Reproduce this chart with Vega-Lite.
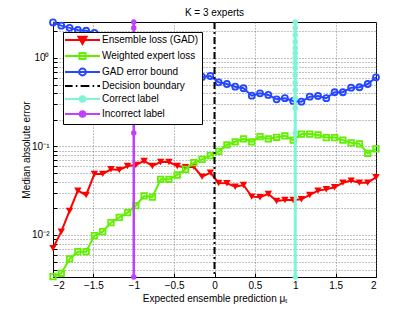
{
  "$schema": "https://vega.github.io/schema/vega-lite/v6.json",
  "width": 323,
  "height": 255,
  "autosize": {"type": "none"},
  "padding": {"left": 53, "top": 22, "right": 39, "bottom": 35},
  "background": "white",
  "config": {
    "font": "Liberation Sans",
    "view": {"stroke": "black", "strokeWidth": 1},
    "axis": {
      "domainColor": "black", "tickColor": "black", "labelColor": "black", "titleColor": "black",
      "labelFontSize": 10, "titleFontSize": 10, "titleFontWeight": "normal",
      "grid": true, "gridDash": [1, 2], "gridColor": "#666", "gridWidth": 0.8,
      "tickSize": -4
    }
  },
  "title": {"text": "K = 3 experts", "fontSize": 10, "fontWeight": "normal", "color": "black", "offset": -2},
  "data": {"values": [
    {"series":"ensemble","x":-2,"y":0.0071},{"series":"ensemble","x":-1.8974,"y":0.0109},{"series":"ensemble","x":-1.7949,"y":0.0187},{"series":"ensemble","x":-1.6923,"y":0.0317},{"series":"ensemble","x":-1.5897,"y":0.0283},{"series":"ensemble","x":-1.4872,"y":0.0489},{"series":"ensemble","x":-1.3846,"y":0.049},{"series":"ensemble","x":-1.2821,"y":0.0552},{"series":"ensemble","x":-1.1795,"y":0.0543},{"series":"ensemble","x":-1.0769,"y":0.0602},{"series":"ensemble","x":-0.9744,"y":0.0618},{"series":"ensemble","x":-0.8718,"y":0.0686},{"series":"ensemble","x":-0.7692,"y":0.0602},{"series":"ensemble","x":-0.6667,"y":0.0668},{"series":"ensemble","x":-0.5641,"y":0.0668},{"series":"ensemble","x":-0.4615,"y":0.0602},{"series":"ensemble","x":-0.359,"y":0.0582},{"series":"ensemble","x":-0.2564,"y":0.059},{"series":"ensemble","x":-0.1538,"y":0.0456},{"series":"ensemble","x":-0.0513,"y":0.0506},{"series":"ensemble","x":0.0513,"y":0.0387},{"series":"ensemble","x":0.1538,"y":0.0384},{"series":"ensemble","x":0.2564,"y":0.0351},{"series":"ensemble","x":0.359,"y":0.0367},{"series":"ensemble","x":0.4615,"y":0.0271},{"series":"ensemble","x":0.5641,"y":0.0267},{"series":"ensemble","x":0.6667,"y":0.0291},{"series":"ensemble","x":0.7692,"y":0.0242},{"series":"ensemble","x":0.8718,"y":0.0248},{"series":"ensemble","x":0.9744,"y":0.0248},{"series":"ensemble","x":1.0769,"y":0.0253},{"series":"ensemble","x":1.1795,"y":0.0283},{"series":"ensemble","x":1.2821,"y":0.0317},{"series":"ensemble","x":1.3846,"y":0.0328},{"series":"ensemble","x":1.4872,"y":0.0346},{"series":"ensemble","x":1.5897,"y":0.039},{"series":"ensemble","x":1.6923,"y":0.0411},{"series":"ensemble","x":1.7949,"y":0.039},{"series":"ensemble","x":1.8974,"y":0.039},{"series":"ensemble","x":2,"y":0.0449},
    {"series":"weighted","x":-2,"y":0.00338},{"series":"weighted","x":-1.8974,"y":0.00369},{"series":"weighted","x":-1.7949,"y":0.00536},{"series":"weighted","x":-1.6923,"y":0.00647},{"series":"weighted","x":-1.5897,"y":0.00647},{"series":"weighted","x":-1.4872,"y":0.00982},{"series":"weighted","x":-1.3846,"y":0.0109},{"series":"weighted","x":-1.2821,"y":0.0138},{"series":"weighted","x":-1.1795,"y":0.0158},{"series":"weighted","x":-1.0769,"y":0.0179},{"series":"weighted","x":-0.9744,"y":0.0214},{"series":"weighted","x":-0.8718,"y":0.0276},{"series":"weighted","x":-0.7692,"y":0.0267},{"series":"weighted","x":-0.6667,"y":0.0426},{"series":"weighted","x":-0.5641,"y":0.0426},{"series":"weighted","x":-0.4615,"y":0.0476},{"series":"weighted","x":-0.359,"y":0.0552},{"series":"weighted","x":-0.2564,"y":0.0656},{"series":"weighted","x":-0.1538,"y":0.0716},{"series":"weighted","x":-0.0513,"y":0.0787},{"series":"weighted","x":0.0513,"y":0.088},{"series":"weighted","x":0.1538,"y":0.104},{"series":"weighted","x":0.2564,"y":0.113},{"series":"weighted","x":0.359,"y":0.122},{"series":"weighted","x":0.4615,"y":0.113},{"series":"weighted","x":0.5641,"y":0.129},{"series":"weighted","x":0.6667,"y":0.122},{"series":"weighted","x":0.7692,"y":0.127},{"series":"weighted","x":0.8718,"y":0.132},{"series":"weighted","x":0.9744,"y":0.118},{"series":"weighted","x":1.0769,"y":0.138},{"series":"weighted","x":1.1795,"y":0.138},{"series":"weighted","x":1.2821,"y":0.135},{"series":"weighted","x":1.3846,"y":0.126},{"series":"weighted","x":1.4872,"y":0.126},{"series":"weighted","x":1.5897,"y":0.118},{"series":"weighted","x":1.6923,"y":0.11},{"series":"weighted","x":1.7949,"y":0.107},{"series":"weighted","x":1.8974,"y":0.0838},{"series":"weighted","x":2,"y":0.0937},
    {"series":"bound","x":-2,"y":2.52},{"series":"bound","x":-1.8974,"y":2.32},{"series":"bound","x":-1.7949,"y":2.19},{"series":"bound","x":-1.6923,"y":2.07},{"series":"bound","x":-1.5897,"y":2.03},{"series":"bound","x":-1.4872,"y":1.92},{"series":"bound","x":-1.3846,"y":1.75},{"series":"bound","x":-1.2821,"y":1.6},{"series":"bound","x":-1.1795,"y":1.45},{"series":"bound","x":-1.0769,"y":1.35},{"series":"bound","x":-0.9744,"y":1.2},{"series":"bound","x":-0.8718,"y":1.1},{"series":"bound","x":-0.7692,"y":1.0},{"series":"bound","x":-0.6667,"y":0.92},{"series":"bound","x":-0.5641,"y":0.85},{"series":"bound","x":-0.4615,"y":0.78},{"series":"bound","x":-0.359,"y":0.72},{"series":"bound","x":-0.2564,"y":0.66},{"series":"bound","x":-0.1538,"y":0.61},{"series":"bound","x":-0.0513,"y":0.626},{"series":"bound","x":0.0513,"y":0.531},{"series":"bound","x":0.1538,"y":0.508},{"series":"bound","x":0.2564,"y":0.474},{"series":"bound","x":0.359,"y":0.455},{"series":"bound","x":0.4615,"y":0.375},{"series":"bound","x":0.5641,"y":0.399},{"series":"bound","x":0.6667,"y":0.382},{"series":"bound","x":0.7692,"y":0.341},{"series":"bound","x":0.8718,"y":0.351},{"series":"bound","x":0.9744,"y":0.327},{"series":"bound","x":1.0769,"y":0.321},{"series":"bound","x":1.1795,"y":0.365},{"series":"bound","x":1.2821,"y":0.372},{"series":"bound","x":1.3846,"y":0.351},{"series":"bound","x":1.4872,"y":0.41},{"series":"bound","x":1.5897,"y":0.41},{"series":"bound","x":1.6923,"y":0.462},{"series":"bound","x":1.7949,"y":0.467},{"series":"bound","x":1.8974,"y":0.508},{"series":"bound","x":2,"y":0.605},
    {"series":"boundary","x":0},
    {"series":"correct","x":1,"y":2.55},{"series":"correct","x":1,"y":2.18},{"series":"correct","x":1,"y":1.82},{"series":"correct","x":1,"y":1.52},{"series":"correct","x":1,"y":1.3},{"series":"correct","x":1,"y":1.14},{"series":"correct","x":1,"y":1.0},{"series":"correct","x":1,"y":0.878},{"series":"correct","x":1,"y":0.77},{"series":"correct","x":1,"y":0.643},{"series":"correct","x":1,"y":0.522},{"series":"correct","x":1,"y":0.435},{"series":"correct","x":1,"y":0.353},{"series":"correct","x":1,"y":0.272},{"series":"correct","x":1,"y":0.142},{"series":"correct","x":1,"y":0.00335},
    {"series":"incorrect","x":-1,"y":2.55},{"series":"incorrect","x":-1,"y":2.18},{"series":"incorrect","x":-1,"y":1.82},{"series":"incorrect","x":-1,"y":1.52},{"series":"incorrect","x":-1,"y":1.3},{"series":"incorrect","x":-1,"y":1.14},{"series":"incorrect","x":-1,"y":1.0},{"series":"incorrect","x":-1,"y":0.878},{"series":"incorrect","x":-1,"y":0.77},{"series":"incorrect","x":-1,"y":0.643},{"series":"incorrect","x":-1,"y":0.522},{"series":"incorrect","x":-1,"y":0.435},{"series":"incorrect","x":-1,"y":0.353},{"series":"incorrect","x":-1,"y":0.272},{"series":"incorrect","x":-1,"y":0.142},{"series":"incorrect","x":-1,"y":0.00335}
  ]},
  "layer": [
    {
      "transform": [{"filter": "datum.series == 'ensemble'"}],
      "mark": {"type": "line", "color": "#ff0000", "strokeWidth": 2},
      "encoding": {
        "x": {"field": "x", "type": "quantitative", "scale": {"domain": [-2, 2], "nice": false, "zero": false},
              "axis": {"values": [-2, -1.5, -1, -0.5, 0, 0.5, 1, 1.5, 2], "format": "~g", "title": "Expected ensemble prediction μₜ", "labelPadding": 7, "titlePadding": 3}},
        "y": {"field": "y", "type": "quantitative", "scale": {"type": "log", "domain": [0.00335, 2.55], "nice": false, "zero": false},
              "axis": {"values": [0.004,0.005,0.006,0.007,0.008,0.009,0.01,0.02,0.03,0.04,0.05,0.06,0.07,0.08,0.09,0.1,0.2,0.3,0.4,0.5,0.6,0.7,0.8,0.9,1,2],
                       "labelExpr": "datum.value == 1 ? '10⁰' : datum.value == 0.1 ? '10⁻¹' : datum.value == 0.01 ? '10⁻²' : ''",
                       "title": "Median absolute error", "labelPadding": 8, "titlePadding": 0}}
      }
    },
    {
      "transform": [{"filter": "datum.series == 'ensemble'"}],
      "mark": {"type": "point", "shape": "triangle-down", "filled": true, "color": "#ff0000", "size": 55, "opacity": 1},
      "encoding": {"x": {"field": "x", "type": "quantitative"}, "y": {"field": "y", "type": "quantitative"}}
    },
    {
      "transform": [{"filter": "datum.series == 'weighted'"}],
      "mark": {"type": "line", "color": "#60f000", "strokeWidth": 2},
      "encoding": {"x": {"field": "x", "type": "quantitative"}, "y": {"field": "y", "type": "quantitative"}}
    },
    {
      "transform": [{"filter": "datum.series == 'weighted'"}],
      "mark": {"type": "point", "shape": "square", "filled": false, "color": "#60f000", "size": 30, "strokeWidth": 1.8, "opacity": 1},
      "encoding": {"x": {"field": "x", "type": "quantitative"}, "y": {"field": "y", "type": "quantitative"}}
    },
    {
      "transform": [{"filter": "datum.series == 'bound'"}],
      "mark": {"type": "line", "color": "#2447ff", "strokeWidth": 2},
      "encoding": {"x": {"field": "x", "type": "quantitative"}, "y": {"field": "y", "type": "quantitative"}}
    },
    {
      "transform": [{"filter": "datum.series == 'bound'"}],
      "mark": {"type": "point", "shape": "circle", "filled": false, "color": "#2447ff", "size": 36, "strokeWidth": 1.8, "opacity": 1},
      "encoding": {"x": {"field": "x", "type": "quantitative"}, "y": {"field": "y", "type": "quantitative"}}
    },
    {
      "transform": [{"filter": "datum.series == 'boundary'"}],
      "mark": {"type": "rule", "color": "black", "strokeWidth": 2, "strokeDash": [7, 3, 2, 3]},
      "encoding": {"x": {"field": "x", "type": "quantitative"}}
    },
    {
      "transform": [{"filter": "datum.series == 'correct'"}],
      "mark": {"type": "line", "color": "#7ff5d8", "strokeWidth": 3},
      "encoding": {"x": {"field": "x", "type": "quantitative"}, "y": {"field": "y", "type": "quantitative"}, "order": {"field": "y", "type": "quantitative"}}
    },
    {
      "transform": [{"filter": "datum.series == 'correct'"}],
      "mark": {"type": "point", "shape": "circle", "filled": true, "color": "#7ff5d8", "size": 30, "opacity": 1},
      "encoding": {"x": {"field": "x", "type": "quantitative"}, "y": {"field": "y", "type": "quantitative"}}
    },
    {
      "transform": [{"filter": "datum.series == 'incorrect'"}],
      "mark": {"type": "line", "color": "#c040ff", "strokeWidth": 2.5},
      "encoding": {"x": {"field": "x", "type": "quantitative"}, "y": {"field": "y", "type": "quantitative"}, "order": {"field": "y", "type": "quantitative"}}
    },
    {
      "transform": [{"filter": "datum.series == 'incorrect'"}],
      "mark": {"type": "point", "shape": "circle", "filled": true, "color": "#c040ff", "size": 30, "opacity": 1},
      "encoding": {"x": {"field": "x", "type": "quantitative"}, "y": {"field": "y", "type": "quantitative"}}
    },
    {
      "transform": [{"filter": "false"}],
      "mark": {"type": "point", "strokeWidth": 2, "opacity": 1},
      "encoding": {
        "shape": {"field": "label", "type": "nominal",
          "scale": {"domain": ["Ensemble loss (GAD)", "Weighted expert loss", "GAD error bound", "Decision boundary", "Correct label", "Incorrect label"],
                    "range": [
                      "M-1.5,0H7.25M1.875,-0.8H3.875L2.875,1Z",
                      "M-1.5,0H7.25M2.125,-0.75H3.625V0.75H2.125Z",
                      "M-1.5,0H7.25M3.725,0A0.85,0.85 0 1,1 2.025,0A0.85,0.85 0 1,1 3.725,0Z",
                      "M-1.5,0H0.4M1.2,0H1.6M2.4,0H4.6M5.4,0H5.8M6.6,0H7.25",
                      "M-1.5,0H7.25M3.575,0A0.7,0.7 0 1,1 2.175,0A0.7,0.7 0 1,1 3.575,0Z",
                      "M-1.5,0H7.25M3.575,0A0.7,0.7 0 1,1 2.175,0A0.7,0.7 0 1,1 3.575,0Z"
                    ]},
          "legend": {"title": null, "orient": "top-left", "offset": 10, "fillColor": "white", "strokeColor": "black", "padding": 3, "rowPadding": 1, "labelFontSize": 10, "labelColor": "black", "labelOffset": 26, "symbolSize": 64, "symbolStrokeWidth": 2, "labelLimit": 300}},
        "stroke": {"field": "label", "type": "nominal",
          "scale": {"domain": ["Ensemble loss (GAD)", "Weighted expert loss", "GAD error bound", "Decision boundary", "Correct label", "Incorrect label"],
                    "range": ["#ff0000", "#60f000", "#2447ff", "#000000", "#7ff5d8", "#c040ff"]},
          "legend": {"title": null}},
        "fill": {"field": "label", "type": "nominal",
          "scale": {"domain": ["Ensemble loss (GAD)", "Weighted expert loss", "GAD error bound", "Decision boundary", "Correct label", "Incorrect label"],
                    "range": ["#ff0000", "transparent", "transparent", "transparent", "#7ff5d8", "#c040ff"]},
          "legend": {"title": null}}
      }
    }
  ]
}
